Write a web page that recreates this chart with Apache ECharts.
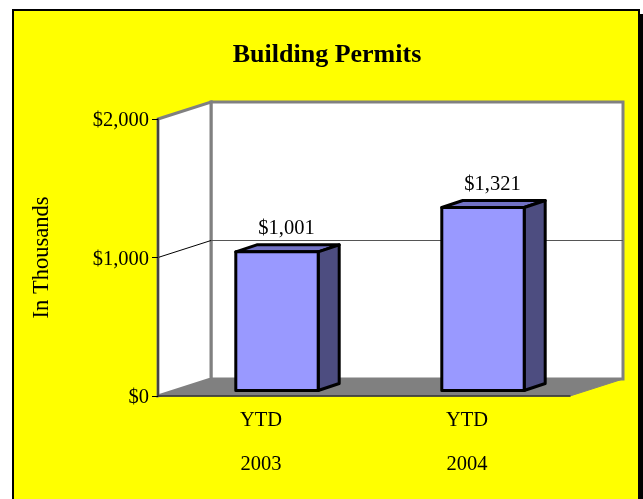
<!DOCTYPE html>
<html><head><meta charset="utf-8">
<style>html,body{margin:0;padding:0;background:#fff}#c{width:643px;height:499px}</style>
<script src="https://cdn.jsdelivr.net/npm/echarts@6/dist/echarts.min.js"></script>
</head><body><div id="c"></div>
<script>
const categories = ['YTD\n2003', 'YTD\n2004'];
const permits = [1001, 1321];
const yTicks = [0, 1000, 2000];
const title = 'Building Permits';
const yName = 'In Thousands';

const FONT = '"Liberation Serif","Times New Roman",serif';
const DX = 53, DY = -17;          // depth of the floor
const BDX = 21, BDY = -7;         // depth of a bar
const OFFX = 16, OFFY = -5.5;     // bar inset from the front edge

const chart = echarts.init(document.getElementById('c'), null, {renderer: 'canvas'});

function renderRoom(params, api) {
  const g = params.coordSys;
  const l = g.x, r = g.x + g.width, t = g.y, b = g.y + g.height;
  const kids = [
    {type:'polygon', shape:{points:[[l+DX,t+DY],[r+DX,t+DY],[r+DX,b+DY],[l+DX,b+DY]]},
      style:{fill:'#fff', stroke:'#808080', lineWidth:3}},
    {type:'polygon', shape:{points:[[l,t],[l+DX,t+DY],[l+DX,b+DY],[l,b]]},
      style:{fill:'#fff', stroke:'#808080', lineWidth:3}},
    {type:'polygon', shape:{points:[[l,b],[l+DX,b+DY],[r+DX,b+DY],[r,b]]},
      style:{fill:'#808080', stroke:'#808080', lineWidth:1}}
  ];
  yTicks.slice(1, -1).forEach(v => {
    const y = api.coord([0, v])[1];
    kids.push({type:'polyline', shape:{points:[[l,y],[l+DX,y+DY]]}, style:{stroke:'#000', lineWidth:1, fill:null}});
    kids.push({type:'polyline', shape:{points:[[l+DX,y+DY],[r+DX,y+DY]]}, style:{stroke:'#555', lineWidth:1, fill:null}});
  });
  return {type:'group', children:kids, silent:true};
}

function renderBar(params, api) {
  const cat = api.value(0), val = api.value(1);
  const top = api.coord([cat, val]), bot = api.coord([cat, 0]);
  const w = api.size([1, 0])[0] * 0.4;
  const x0 = top[0] - w / 2 + OFFX, x1 = x0 + w;
  const y0 = top[1] + OFFY, y1 = bot[1] + OFFY;
  const s = (fill) => ({fill, stroke:'#000', lineWidth:3, lineJoin:'round'});
  return {type:'group', children:[
    {type:'polygon', shape:{points:[[x0,y0],[x0+BDX,y0+BDY],[x1+BDX,y0+BDY],[x1,y0]]}, style:s('#7272C4')},
    {type:'polygon', shape:{points:[[x1,y0],[x1+BDX,y0+BDY],[x1+BDX,y1+BDY],[x1,y1]]}, style:s('#4D4D80')},
    {type:'rect', shape:{x:x0,y:y0,width:w,height:y1-y0}, style:s('#9999FF')},
    {type:'text', style:{text:'$' + val.toLocaleString('en-US'), x:(x0+x1)/2+BDX/2-1, y:y0+BDY-16,
      align:'center', verticalAlign:'middle', font:'20.5px '+FONT, fill:'#000'}}
  ]};
}

chart.setOption({
  animation:false,
  backgroundColor:'#fff',
  graphic:[
    {type:'rect', z:-3, shape:{x:640,y:14,width:3,height:485}, style:{fill:'#000'}},
    {type:'rect', z:-2, shape:{x:12,y:9,width:628,height:490}, style:{fill:'#000'}},
    {type:'rect', z:-1, shape:{x:14,y:11,width:624,height:488}, style:{fill:'#FFFF00'}}
  ],
  title:{text:title, left:322, top:37, textAlign:'center',
    textStyle:{fontFamily:FONT, fontSize:26, fontWeight:'bold', color:'#000'}},
  grid:{left:158, top:119, width:412, height:277, containLabel:false},
  xAxis:{type:'category', data:categories,
    axisLine:{show:true, lineStyle:{color:'#333', width:1.5}}, axisTick:{show:false},
    axisLabel:{fontFamily:FONT, fontSize:20.5, color:'#000', lineHeight:44, margin:3, interval:0},
    z:5},
  yAxis:{type:'value', min:0, max:2000, interval:1000,
    name:yName, nameLocation:'middle', nameGap:104,
    nameTextStyle:{fontFamily:FONT, fontSize:22.5, color:'#000'},
    splitLine:{show:false},
    axisLine:{show:true, lineStyle:{color:'#444', width:2}},
    axisTick:{show:true, length:6, lineStyle:{color:'#000', width:1}},
    axisLabel:{fontFamily:FONT, fontSize:20.5, color:'#000', margin:9, verticalAlign:'top', lineHeight:4,
      formatter:v => '$' + v.toLocaleString('en-US')},
    z:5},
  series:[
    {type:'custom', coordinateSystem:'cartesian2d', renderItem:renderRoom, data:[[0,0]], z:1, silent:true, clip:false},
    {type:'custom', coordinateSystem:'cartesian2d', renderItem:renderBar, clip:false, z:2,
      data:permits.map((v,i)=>[i,v])}
  ]
});
</script></body></html>
